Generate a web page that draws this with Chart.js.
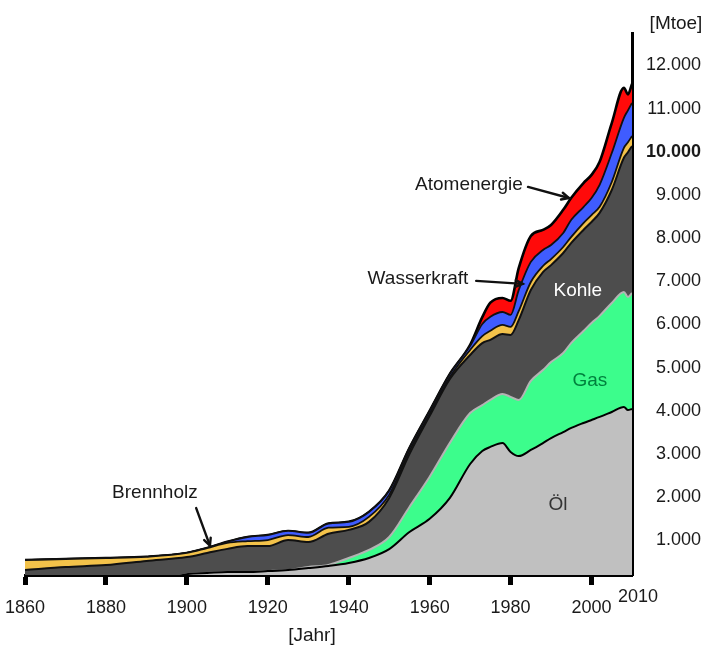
<!DOCTYPE html>
<html>
<head>
<meta charset="utf-8">
<script src="https://cdn.jsdelivr.net/npm/chart.js@4.4.1/dist/chart.umd.min.js"></script>
<style>
html,body{margin:0;padding:0;background:#fff;}
#wrap{position:relative;width:719px;height:651px;}
</style>
</head>
<body>
<div id="wrap"><canvas id="c"></canvas></div>
<script>
// ---- data (Mtoe) ----
const years = [1860,1870,1880,1890,1900,1905,1910,1915,1920,1925,1930,1935,1940,1945,1950,1955,1960,1965,1970,1973,1975,1978,1980,1982,1985,1988,1990,1993,1995,1998,2000,2002,2005,2008,2009,2010];
const oel         = [0,0,0,0,220,245,270,270,290,315,360,410,480,595,800,1195,1500,1985,2770,3070,3165,3255,3050,2955,3095,3255,3370,3510,3605,3720,3790,3860,3975,4090,4020,4045];
const gas         = [0,0,0,0,0,0,0,0,0,0,25,25,115,185,280,580,975,1275,1180,1065,1090,1135,1275,1295,1600,1690,1760,1830,1970,2130,2245,2340,2525,2665,2615,2685];
const kohle       = [315,385,430,525,395,465,535,600,580,695,580,720,650,650,905,1225,1410,1480,1345,1435,1390,1390,1435,1850,2105,2270,2245,2315,2315,2340,2340,2385,2615,3105,3355,3405];
const brennholz   = [230,185,160,95,95,115,140,115,140,115,115,140,70,115,70,70,45,45,115,160,210,210,185,210,185,140,140,140,140,160,160,140,185,230,230,230];
const wasserkraft = [0,0,0,0,0,0,25,95,115,95,95,95,115,115,95,70,70,70,95,280,325,300,280,485,465,370,325,325,395,370,395,510,670,695,740,765];
const atomenergie = [0,0,0,0,0,0,0,0,0,0,0,0,0,0,0,0,0,0,25,160,325,325,325,510,600,465,465,535,510,555,535,535,695,695,370,440];

const xTickYears  = [1860,1880,1900,1920,1940,1960,1980,2000];
const yTickValues = [1000,2000,3000,4000,5000,6000,7000,8000,9000,10000,11000,12000];
const yTickLabels = ['1.000','2.000','3.000','4.000','5.000','6.000','7.000','8.000','9.000','10.000','11.000','12.000'];
const seriesNames = ['Öl','Gas','Kohle','Brennholz','Wasserkraft','Atomenergie'];

// ---- styling ----
const FONT = "'Liberation Sans', Arial, Helvetica, sans-serif";
const fills   = ['#c0c0c0','#3cfd8c','#4d4d4d','#f3c24a','#3f5cff','#ff0a0a'];
const borders = ['#000000','#b4b4b4','#111111','#111111','#111111','#000000'];
const bwidths = [2,2,2,1.8,1.8,2.6];

const series = [oel,gas,kohle,brennholz,wasserkraft,atomenergie];
const datasets = series.map((arr,i)=>({
  label: seriesNames[i],
  data: arr.map((v,k)=>({x:years[k], y:v})),
  backgroundColor: fills[i],
  borderColor: borders[i],
  borderWidth: bwidths[i],
  fill: i===0 ? 'origin' : '-1',
  pointRadius: 0,
  cubicInterpolationMode: 'monotone'
}));

// annotation texts in data coordinates (year, Mtoe)
const notes = [
  {text:'Brennholz',   year:1892.1, val:2100, color:'#1a1a1a'},
  {text:'Wasserkraft', year:1957.1, val:7055, color:'#1a1a1a'},
  {text:'Atomenergie', year:1969.7, val:9230, color:'#1a1a1a'},
  {text:'Kohle',       year:1996.6, val:6780, color:'#ffffff'},
  {text:'Gas',         year:1999.6, val:4690, color:'#00813d'},
  {text:'Öl',          year:1991.7, val:1820, color:'#333333'}
];
const arrows = [
  {from:[1902.3,1750], to:[1905.7,880]},
  {from:[1971.5,7010], to:[1983.0,6940]},
  {from:[1984.3,9185], to:[1994.4,8930]}
];

const annotPlugin = {
  id:'annot',
  afterDraw(chart){
    const {ctx, scales:{x,y}, chartArea:ca} = chart;
    ctx.save();
    ctx.textAlign='center';
    ctx.textBaseline='middle';
    ctx.font = '19px ' + FONT;
    notes.forEach(n=>{
      ctx.fillStyle = n.color;
      ctx.fillText(n.text, x.getPixelForValue(n.year), y.getPixelForValue(n.val));
    });
    ctx.strokeStyle='#111';
    ctx.lineWidth=2.4;
    ctx.lineCap='round';
    arrows.forEach(a=>{
      const x1=x.getPixelForValue(a.from[0]), y1=y.getPixelForValue(a.from[1]);
      const x2=x.getPixelForValue(a.to[0]),   y2=y.getPixelForValue(a.to[1]);
      ctx.beginPath(); ctx.moveTo(x1,y1); ctx.lineTo(x2,y2); ctx.stroke();
      const ang=Math.atan2(y2-y1,x2-x1), L=8, W=0.45;
      ctx.beginPath();
      ctx.moveTo(x2-L*Math.cos(ang-W), y2-L*Math.sin(ang-W));
      ctx.lineTo(x2,y2);
      ctx.lineTo(x2-L*Math.cos(ang+W), y2-L*Math.sin(ang+W));
      ctx.stroke();
    });
    // axis captions
    ctx.fillStyle='#1a1a1a';
    ctx.font = '19px ' + FONT;
    ctx.fillText('[Mtoe]', ca.right+44, ca.top-9);
    ctx.fillText('[Jahr]', x.getPixelForValue(1930.9), ca.bottom+61);
    ctx.font = '18px ' + FONT;
    ctx.fillText('2010', x.getPixelForValue(2010)+6, ca.bottom+22);
    ctx.restore();
  }
};

new Chart(document.getElementById('c'), {
  type:'line',
  data:{datasets},
  plugins:[annotPlugin],
  options:{
    responsive:true,
    maintainAspectRatio:false,
    animation:false,
    layout:{padding:{left:25, top:33, right:18, bottom:0}},
    plugins:{legend:{display:false}, tooltip:{enabled:false}},
    scales:{
      x:{
        type:'linear', min:1860, max:2010,
        afterBuildTicks: s => { s.ticks = xTickYears.map(v=>({value:v})); },
        afterFit: s => { s.height = 76; s.paddingLeft = 0; s.paddingRight = 0; },
        grid:{display:true, drawOnChartArea:false, drawTicks:true, tickLength:10, tickWidth:5, tickColor:'#000'},
        border:{display:true, color:'#000', width:3},
        ticks:{color:'#1a1a1a', font:{family:FONT, size:18}, padding:12, maxRotation:0, autoSkip:false, callback: v => String(v)}
      },
      y:{
        position:'right', stacked:true, min:200, max:12750,
        afterBuildTicks: s => { s.ticks = yTickValues.map(v=>({value:v})); },
        afterFit: s => { s.width = 69; },
        grid:{display:true, drawOnChartArea:false, drawTicks:false},
        border:{display:true, color:'#000', width:3},
        ticks:{
          padding:12, crossAlign:'far', color:'#1a1a1a',
          font: c => ({family:FONT, size:18, weight: (c.tick && c.tick.value===10000) ? 'bold' : 'normal'}),
          callback: v => yTickLabels[yTickValues.indexOf(v)]
        }
      }
    }
  }
});
</script>
</body>
</html>
